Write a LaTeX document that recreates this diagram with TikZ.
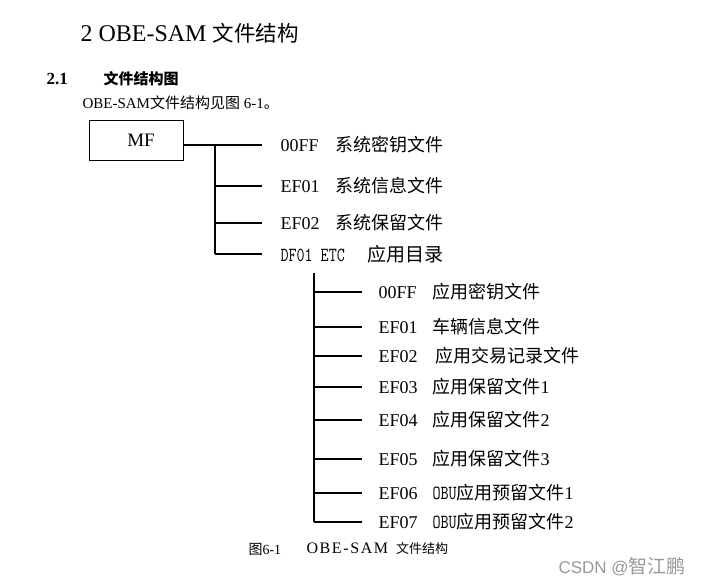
\documentclass[tikz,border=0pt]{standalone}
\usepackage{graphicx}
\usepackage{fontspec}
\setmainfont{Liberation Serif}
\setsansfont{Liberation Sans}
\newfontfamily\cjkfont{Noto Sans CJK SC}
\newcommand{\zh}[1]{{\cjkfont #1}}
\newcommand{\fs}[1]{\fontsize{#1}{#1}\selectfont}
\newcommand{\narrowtt}[1]{\scalebox{0.78}[1]{\ttfamily\fs{20}#1}}

\begin{document}
\begin{tikzpicture}[x=1pt,y=-1pt,line width=1.1pt,
		lbl/.style={anchor=west,inner sep=0pt,font=\fs{18}},
		txt/.style={anchor=west,inner sep=0pt}]
			\useasboundingbox[fill=white] (0,0) rectangle (705,585);
			% heading
			\node[txt,font=\fs{24}] (title) at (80,33) {2 OBE-SAM \zh{\fs{21.5}文件结构}};
			\node[txt,font=\fs{17}\bfseries] (secno) at (46,79) {2.1};
			\node[txt,font=\fs{15}] (secname) at (103,79) {\zh{\bfseries 文件结构图}};
			\node[txt,font=\fs{15}] (intro) at (82,103) {OBE-SAM\zh{文件结构见图} 6-1\zh{。}};
			% MF
			\node[draw,line width=0.9pt,minimum width=94pt,minimum height=40pt,inner sep=0pt,font=\fs{19}] (mf) at (136,140) {\hspace*{10pt}MF};
			\coordinate (j0) at (215,145);
			\node[lbl] (s1) at (280,145) {\makebox[55pt][l]{00FF}\zh{系统密钥文件}};
			\node[lbl] (s2) at (280,186) {\makebox[55pt][l]{EF01}\zh{系统信息文件}};
			\node[lbl] (s3) at (280,223) {\makebox[55pt][l]{EF02}\zh{系统保留文件}};
			\node[lbl] (s4) at (280,254) {\makebox[87pt][l]{\narrowtt{DF01 ETC}}\zh{\fs{19}应用目录}};
			\draw[shorten >=18pt] (mf.east |- j0) -- (s1.west);
			\draw (j0) -- (j0 |- s4.west);
			\foreach \i in {2,3,4} \draw[shorten >=18pt] (j0 |- s\i.west) -- (s\i.west);
			% DF01
			\coordinate (j1) at (314,273);
			\foreach \i/\y/\code/\name/\tail in {1/292/00FF/应用密钥文件/{},2/327/EF01/车辆信息文件/{},3/356/EF02/{\,应用交易记录文件}/{},4/387/EF03/应用保留文件/1,5/420/EF04/应用保留文件/2,6/459/EF05/应用保留文件/3}
				\node[lbl] (d\i) at (378,\y) {\makebox[54pt][l]{\code}\zh{\name}\tail};
			\node[lbl] (d7) at (378,493) {\makebox[54pt][l]{EF06}\narrowtt{OBU}\zh{应用预留文件}1};
			\node[lbl] (d8) at (378,522) {\makebox[54pt][l]{EF07}\narrowtt{OBU}\zh{应用预留文件}2};
			\draw (j1) -- (j1 |- d8.west);
			\foreach \i in {1,...,8} \draw[shorten >=16pt] (j1 |- d\i.west) -- (d\i.west);
			% caption
			\node[txt,font=\fs{14}] (capno) at (248,549) {\zh{图}6-1};
			\node[txt,font=\fs{16}] (capname) at (306,549) {{\addfontfeature{LetterSpace=10}OBE-SAM}\hspace{8pt}\zh{\fs{13}文件结构}};
			\node[txt,font=\fs{17}\sffamily,text=black!40] (mark) at (558,567) {CSDN @\zh{\fs{19}智江鹏}};
		\end{tikzpicture}
\end{document}
